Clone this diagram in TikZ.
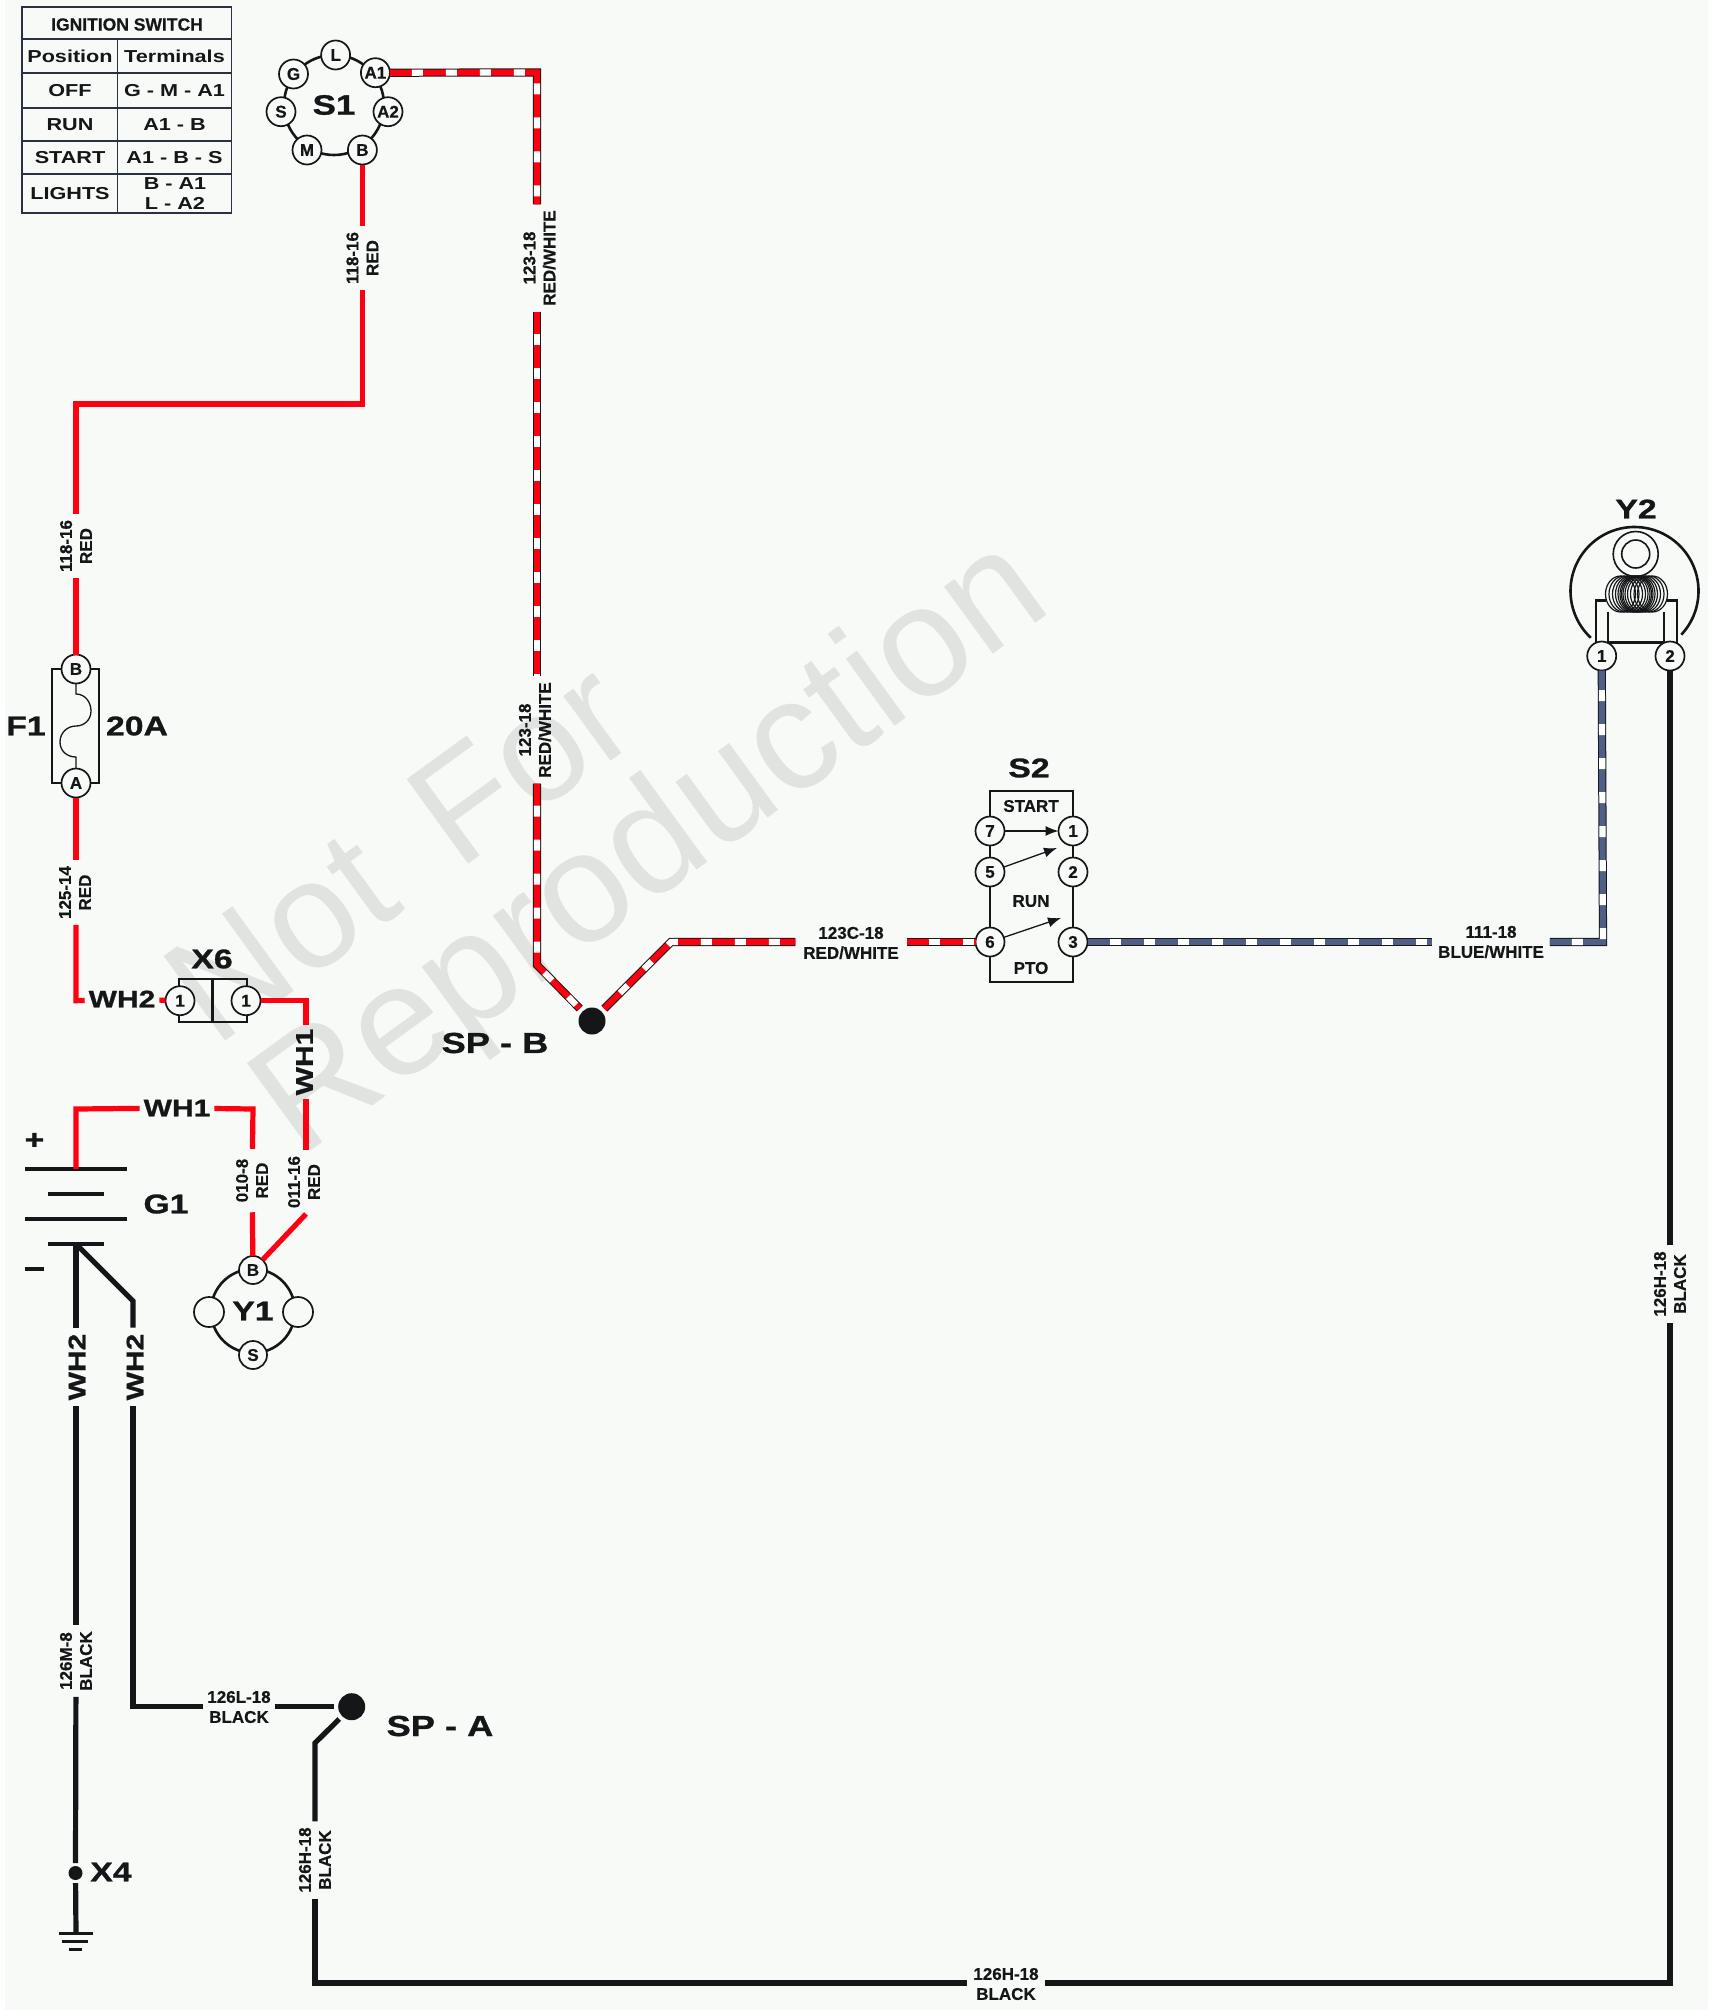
\documentclass[tikz,border=0pt]{standalone}
\usepackage{fontspec}
\setmainfont{Liberation Sans}
\newfontfamily\hf[FakeStretch=1.25]{Liberation Sans}
\newfontfamily\hfb[UprightFont=* Bold,FakeStretch=1.25,FakeBold=1]{Liberation Sans}
\newfontfamily\lbf[UprightFont=* Bold,FakeBold=0.4]{Liberation Sans}
\usetikzlibrary{arrows.meta}
\definecolor{bgc}{HTML}{F8FAF8}
\definecolor{ink}{HTML}{141618}
\definecolor{wred}{HTML}{FF0010}
\definecolor{wblue}{HTML}{4F5F85}
\definecolor{wm}{HTML}{E1E3E1}
\definecolor{tbl}{HTML}{2A3140}
\tikzset{
  pin/.style={circle,draw=ink,fill=bgc,line width=1.7pt,minimum size=29pt,inner sep=0pt,outer sep=0pt,text=ink,font=\lbf\fontsize{17}{17}\selectfont},
  big/.style={text=ink,inner sep=0pt,font=\hfb\fontsize{#1}{#1}\selectfont},
  cell/.style={text=ink,inner sep=0pt,align=center,font=\hf\fontsize{17.3}{20}\selectfont\bfseries},
  wl/.style={text=ink,align=center,inner xsep=6pt,inner ysep=0pt,outer sep=0pt,font=\lbf\fontsize{17}{20}\selectfont},
  wlv/.style={wl,rotate=90},
  wh/.style={text=ink,inner xsep=4pt,inner ysep=0pt,outer sep=0pt,font=\hfb\fontsize{24}{24}\selectfont},
  wmark/.style={rotate=36,text=wm,font=\fontsize{#1}{#1}\selectfont},
  redw/.style={draw=wred,line width=5.2pt,line join=miter},
  blkw/.style={draw=ink,line width=5.2pt,line join=miter},
  stripe/.style={draw=ink,line width=8.2pt,line join=miter,
     postaction={draw=#1,line width=6.2pt},
     postaction={draw=white,line width=6.2pt,dash pattern=on 11pt off 23pt,dash phase=-22pt}},
  part/.style={draw=ink,line width=2.6pt},
  thinp/.style={draw=ink,line width=1.3pt},
  dot/.style={circle,fill=ink,inner sep=0pt,minimum size=#1},
  arr/.style={draw=ink,line width=1.3pt,-{Latex[length=13pt,width=10pt]}},
  s2txt/.style={text=ink,inner sep=0pt,font=\lbf\fontsize{17}{17}\selectfont},
}
\begin{document}
\begin{tikzpicture}[x=1pt,y=-1pt]
\useasboundingbox (0,0) rectangle (1713,2011);
\fill[bgc] (5,0) rectangle (1708,2010);
% watermark
\node[wmark=152] (wm1) at (399,851) {Not\hspace{22pt} For};
\node[wmark=157] (wm2) at (654,851) {Reproduction};
% ignition table
\draw[draw=tbl,line width=1.8pt] (22,7) rectangle (231.5,213.3);
\foreach \yy in {39.3,72.7,107.7,140.7,174.3} \draw[draw=tbl,line width=1.8pt] (22,\yy) -- (231.5,\yy);
\draw[draw=tbl,line width=1.8pt] (117.5,39.3) -- (117.5,213.3);
\node[text=ink,inner sep=0pt,font=\lbf\fontsize{17.5}{20}\selectfont] (t0) at (127,24.5) {IGNITION SWITCH};
\node[cell] (t1) at (70,56) {Position};
\node[cell] (t2) at (174.5,56) {Terminals};
\node[cell] (t3) at (70,90.5) {OFF};
\node[cell] (t4) at (174.5,90.5) {G - M - A1};
\node[cell] (t5) at (70,124.5) {RUN};
\node[cell] (t6) at (174.5,124.5) {A1 - B};
\node[cell] (t7) at (70,158) {START};
\node[cell] (t8) at (174.5,158) {A1 - B - S};
\node[cell] (t9) at (70,193.5) {LIGHTS};
\node[cell] (t10) at (175,194) {B - A1\\L - A2};
% S1
\node[circle,part,minimum size=100pt,inner sep=0pt,text=ink,font=\hfb\fontsize{28}{28}\selectfont] (s1) at (334,105) {S1};
\node[pin] (s1L) at (335.6,55) {L};
\node[pin] (s1G) at (293.5,74) {G};
\node[pin] (s1A1) at (375.4,72.7) {A1};
\node[pin] (s1S) at (281,111.7) {S};
\node[pin] (s1A2) at (388,111.7) {A2};
\node[pin] (s1M) at (307,150) {M};
\node[pin] (s1B) at (362.4,150) {B};
% F1
\draw[part] (52,669) rectangle (99,783);
\node[pin] (fb) at (76,669) {B};
\node[pin] (fa) at (76,783) {A};
\draw[thinp] (fb) -- (76,694) .. controls (85,694) and (91,702) .. (91,711) .. controls (91,720) and (84,726) .. (76,726) .. controls (67,726) and (60,733) .. (60,742) .. controls (60,751) and (67,757) .. (76,757) -- (fa);
\node[big=27] (f1t) at (26,726) {F1};
\node[big=27] (f20) at (137,726) {20A};
% X6
\draw[part] (179,979) rectangle (247,1022);
\draw[part] (212.7,979) -- (212.7,1022);
\node[pin] (x6a) at (180,1000.7) {1};
\node[pin] (x6b) at (246,1000.7) {1};
\node[big=27] (x6t) at (212,959) {X6};
% battery
\draw[draw=ink,line width=4pt] (25,1169) -- (127,1169);
\draw[draw=ink,line width=4pt] (48,1194) -- (104,1194);
\draw[draw=ink,line width=4pt] (25,1219) -- (127,1219);
\draw[draw=ink,line width=4pt] (48,1244) -- (104,1244);
\node[big=27] (bp) at (34.5,1141) {+};
\draw[draw=ink,line width=4pt] (25,1269) -- (44,1269);
\node[big=27] (g1) at (166,1204) {G1};
\coordinate (bpos) at (76,1169);
\coordinate (bneg) at (76,1244);
% Y1
\node[circle,part,minimum size=84pt,inner sep=0pt,text=ink,font=\hfb\fontsize{27}{27}\selectfont] (y1) at (253,1311) {Y1};
\node[pin,minimum size=28pt] (y1B) at (253,1270) {B};
\node[pin,minimum size=28pt] (y1S) at (253,1355) {S};
\node[pin,minimum size=30pt] (y1L) at (209,1312) {};
\node[pin,minimum size=30pt] (y1R) at (298,1312) {};
% SP / X4
\node[dot=27pt,outer sep=4pt] (spb) at (592,1021) {};
\node[big=29] (spbt) at (495,1043) {SP - B};
\node[dot=27pt,outer sep=4pt] (spa) at (351.7,1706.7) {};
\node[big=29] (spat) at (440,1726) {SP - A};
\node[dot=14pt,outer sep=3pt] (x4) at (75.5,1873) {};
\node[big=27] (x4t) at (111,1872) {X4};
\draw[draw=ink,line width=3pt] (59,1933) -- (93,1933);
\draw[draw=ink,line width=3pt] (62,1941) -- (88,1941);
\draw[draw=ink,line width=3pt] (69,1949) -- (82,1949);
\coordinate (gnd) at (76,1933);
% S2
\draw[part] (990,791) rectangle (1073,982);
\node[pin] (p7) at (990,831) {7};
\node[pin] (p1) at (1073,831) {1};
\node[pin] (p5) at (990,872) {5};
\node[pin] (p2) at (1073,872) {2};
\node[pin] (p6) at (990,942) {6};
\node[pin] (p3) at (1073,942) {3};
\node[s2txt] (s2a) at (1031,806) {START};
\node[s2txt] (s2b) at (1031,901) {RUN};
\node[s2txt] (s2c) at (1031,968) {PTO};
\node[big=27] (s2t) at (1029,768) {S2};
\coordinate (a5) at (1057,848);
\coordinate (a6) at (1061,918);
\draw[arr] (p7) -- (p1);
\draw[arr] (p5) -- (a5);
\draw[arr] (p6) -- (a6);
% Y2
\draw[part] (1634.5,591) ++(133:64) arc[start angle=133,end angle=403,radius=64];
\draw[draw=ink,line width=1.6pt] (1635.7,554) circle[radius=22.5];
\draw[draw=ink,line width=1.6pt] (1635.7,554) circle[radius=14];
\draw[part] (1596,645) -- (1596,600.7) -- (1606,600.7);
\draw[part] (1608,612) -- (1608,642.7) -- (1664,642.7) -- (1664,612);
\draw[part] (1666,600.7) -- (1677,600.7) -- (1677,645);
\foreach \o in {-16,-12.5,-9,-6,-3.5,-1.5,0,1.5,3.5,6,9,12.5,16}
  \draw[draw=ink,line width=1.2pt] (1636.5+\o,594) ellipse[x radius=15,y radius=18];
\node[pin] (y21) at (1601.7,656) {1};
\node[pin] (y22) at (1670,656) {2};
\node[big=27] (y2t) at (1636,509) {Y2};
% wire labels
\node[wlv] (l118a) at (362.4,258) {118-16\\RED};
\node[wlv] (l118b) at (76,546) {118-16\\RED};
\node[wlv] (l125) at (75,892.5) {125-14\\RED};
\node[wlv] (l123a) at (539.5,258) {123-18\\RED/WHITE};
\node[wlv] (l123b) at (535,730) {123-18\\RED/WHITE};
\node[wl,inner xsep=8pt] (l123c) at (851,943) {123C-18\\RED/WHITE};
\node[wl] (l111) at (1491,942) {111-18\\BLUE/WHITE};
\node[wlv,inner xsep=10pt] (l010) at (252,1180.5) {010-8\\RED};
\node[wlv] (l011) at (304,1182) {011-16\\RED};
\node[wlv] (l126m) at (76,1661) {126M-8\\BLACK};
\node[wl,inner xsep=4pt] (l126l) at (239,1707) {126L-18\\BLACK};
\node[wlv] (l126ha) at (315,1860) {126H-18\\BLACK};
\node[wl] (l126hb) at (1006,1984) {126H-18\\BLACK};
\node[wlv] (l126hc) at (1670,1284) {126H-18\\BLACK};
\node[wh] (wh2a) at (122,999) {WH2};
\node[wh,rotate=90] (wh1a) at (304.5,1062) {WH1};
\node[wh] (wh1b) at (177,1108) {WH1};
\node[wh,rotate=90,inner xsep=6pt] (wh2b) at (77,1367) {WH2};
\node[wh,rotate=90,inner xsep=6pt] (wh2c) at (135,1367) {WH2};
% corners
\coordinate (c1) at (362.4,404);
\coordinate (c2) at (76,404);
\coordinate (c3) at (76,1000.7);
\coordinate (c4) at (306,1000.7);
\coordinate (c5) at (76,1109);
\coordinate (c6) at (253,1109);
\coordinate (c7) at (133,1301);
\coordinate (c8) at (133,1706.7);
\coordinate (c9) at (315,1743);
\coordinate (c10) at (315,1983);
\coordinate (c11) at (1670,1983);
\coordinate (c13) at (537,965);
\coordinate (c14) at (671,942);
\coordinate (c15) at (1603,942);
\coordinate (c16) at (537,72.5);
% red wires
\draw[redw] (s1B) -- (l118a);
\draw[redw] (l118a) -- (c1) -- (c2) -- (l118b);
\draw[redw] (l118b) -- (fb);
\draw[redw] (fa) -- (c3 |- l125.east);
\draw[redw] (c3 |- l125.west) -- (c3) -- (wh2a);
\draw[redw] (wh2a) -- (x6a);
\draw[redw] (x6b) -- (c4) -- (c4 |- wh1a.east);
\draw[redw] (c4 |- wh1a.west) -- (c4 |- l011.east);
\draw[redw] (c4 |- l011.west) -- (y1B);
\draw[redw] (bpos) -- (c5) -- (wh1b);
\draw[redw] (wh1b) -- (c6) -- (l010);
\draw[redw] (l010) -- (y1B);
% black wires
\draw[blkw] (bneg) -- (bneg |- wh2b.east);
\draw[blkw] (bneg |- wh2b.west) -- (l126m);
\draw[blkw] (l126m) -- (x4);
\draw[blkw] (x4) -- (gnd);
\draw[blkw] (bneg) -- (c7) -- (c7 |- wh2c.east);
\draw[blkw] (c7 |- wh2c.west) -- (c8) -- (c8 -| l126l.west);
\draw[blkw] (l126l.east |- spa) -- (spa);
\draw[blkw] (spa) -- (c9) -- (l126ha);
\draw[blkw] (l126ha) -- (c10) -- (c10 -| l126hb.west);
\draw[blkw] (c10 -| l126hb.east) -- (c11) -- (l126hc);
\draw[blkw] (l126hc) -- (y22);
% striped wires
\draw[stripe=wred] (s1A1) -- (c16) -- (c16 |- l123a.east);
\draw[stripe=wred] (c16 |- l123a.west) -- (c16 |- l123b.east);
\draw[stripe=wred] (c16 |- l123b.west) -- (c13) -- (spb);
\draw[stripe=wred] (spb) -- (c14) -- (c14 -| l123c.west);
\draw[stripe=wred] (c14 -| l123c.east) -- (p6);
\draw[stripe=wblue] (p3) -- (l111);
\draw[stripe=wblue] (l111) -- (c15) -- (y21);
\end{tikzpicture}
\end{document}
